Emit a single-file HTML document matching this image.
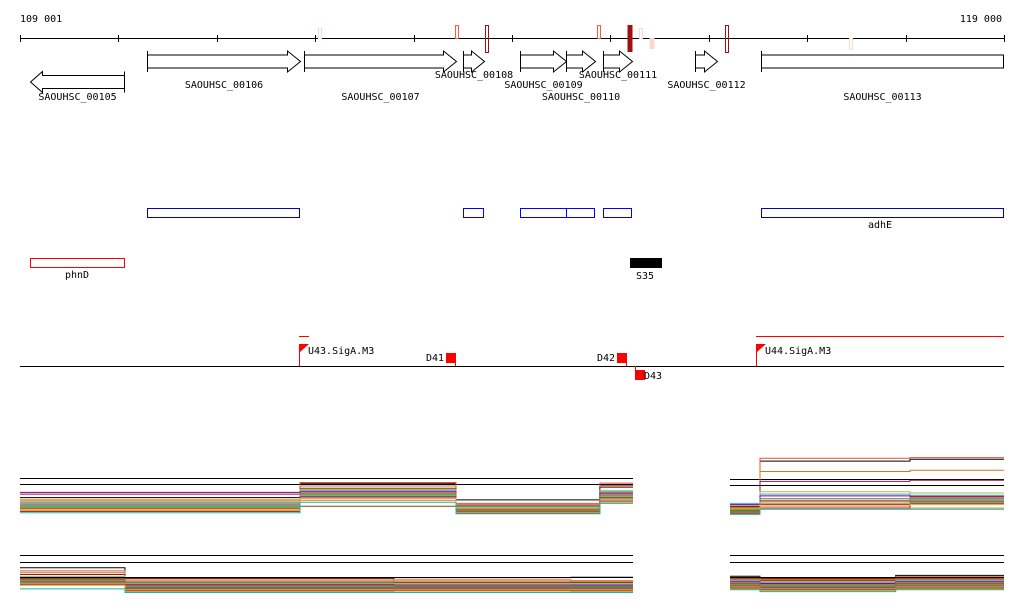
<!DOCTYPE html>
<html><head><meta charset="utf-8">
<style>
html,body{margin:0;padding:0;background:#fff;}
svg{display:block;font-family:"DejaVu Sans Mono","Liberation Mono",monospace;font-size:10px;}
</style></head>
<body>
<svg id="chart" width="1024" height="611" viewBox="0 0 1024 611">
<g id="axis">
 <text x="20" y="22">109 001</text>
 <text x="1002" y="22" text-anchor="end">119 000</text>
 <line x1="20" y1="38.5" x2="1004" y2="38.5" stroke="#000"/>
</g>
<g id="marks"></g>
<g id="genes"></g>
<g id="boxes">
 <rect x="147.5" y="208.5" width="152" height="9" fill="none" stroke="#0000cc"/>
 <rect x="463.5" y="208.5" width="20" height="9" fill="none" stroke="#0000ff"/>
 <rect x="520.5" y="208.5" width="46" height="9" fill="none" stroke="#0000ff"/>
 <rect x="566.5" y="208.5" width="28" height="9" fill="none" stroke="#0000ff"/>
 <rect x="603.5" y="208.5" width="28" height="9" fill="none" stroke="#0000ff"/>
 <rect x="761.5" y="208.5" width="242" height="9" fill="none" stroke="#0000cc"/>
 <text x="880" y="228" text-anchor="middle">adhE</text>
 <rect x="30.5" y="258.5" width="94" height="9" fill="none" stroke="#ff0000"/>
 <text x="77" y="278" text-anchor="middle">phnD</text>
 <rect x="630" y="258" width="32" height="10" fill="#000"/>
 <text x="645" y="279" text-anchor="middle">S35</text>
</g>
<g id="regs">
 <line x1="20" y1="366.5" x2="1004" y2="366.5" stroke="#000"/>
 <line x1="299" y1="336.5" x2="309" y2="336.5" stroke="#f00"/>
 <line x1="756" y1="336.5" x2="1004" y2="336.5" stroke="#f00"/>
 <g><line x1="299.5" y1="344" x2="299.5" y2="366" stroke="#f00"/><polygon points="300,344 309,344 300,352" fill="#f00"/><text x="308" y="354">U43.SigA.M3</text></g>
 <g><line x1="756.5" y1="344" x2="756.5" y2="366" stroke="#f00"/><polygon points="757,344 766,344 757,352" fill="#f00"/><text x="765" y="354">U44.SigA.M3</text></g>
 <g><rect x="446" y="353" width="10" height="10" fill="#f00"/><line x1="455.5" y1="360" x2="455.5" y2="366" stroke="#f00"/><text x="426" y="361">D41</text></g>
 <g><rect x="617" y="353" width="10" height="10" fill="#f00"/><line x1="626.5" y1="360" x2="626.5" y2="366" stroke="#f00"/><text x="597" y="361">D42</text></g>
 <g><line x1="635.5" y1="366" x2="635.5" y2="372" stroke="#f00"/><rect x="635" y="370" width="10" height="10" fill="#f00"/><text x="644" y="379">D43</text></g>
</g>
<g id="expr"></g>
</svg>
<script>
const NS="http://www.w3.org/2000/svg";
function mk(tag,attrs,parent){const e=document.createElementNS(NS,tag);for(const k in attrs)e.setAttribute(k,attrs[k]);parent.appendChild(e);return e;}
const startPos=109001, endPos=119000;
const X=p=>20+(p-startPos)/(endPos-startPos)*984;
const tickPositions=[109001,110001,111001,112001,113001,114001,115001,116001,117001,118001,119000];
const axisG=document.getElementById('axis');
tickPositions.forEach(t=>{const l=mk('line',{x1:Math.round(X(t))+0.5,y1:35,x2:Math.round(X(t))+0.5,y2:42,stroke:'#000'},axisG);

});

// site marks
const markPos=[112049,113441,113746,114884,115199,115311,115423,116185,117445];
const markColor=['#fcd9cf','#f06040','#a01010','#f06040','#a01010','#fcd9cf','#fbd8cc','#a01010','#fcd9cf'];
const markTop=[28,25,25,25,25,28,38,25,38];
const markBot=[38,38,52,38,52,38,49,52,49];
const markFill=[0,0,0,0,1,0,1,0,0];
const mg=document.getElementById('marks');
markPos.forEach((p,i)=>{const x=Math.round(X(p));
const r=mk('rect',{x:x-1.5,y:markTop[i]+0.5,width:3,height:markBot[i]-markTop[i],fill:markFill[i]?markColor[i]:'none',stroke:markColor[i]},mg);
if(markFill[i]){r.setAttribute('x',x-2.5);r.setAttribute('width',5);r.setAttribute('stroke','none');r.setAttribute('y',markTop[i]);}

});

// genes
const geneNames=['SAOUHSC_00105','SAOUHSC_00106','SAOUHSC_00107','SAOUHSC_00108','SAOUHSC_00109','SAOUHSC_00110','SAOUHSC_00111','SAOUHSC_00112','SAOUHSC_00113'];
const geneStart=[109103,110291,111887,113502,114082,114549,114925,115860,116530];
const geneEnd=[110058,111846,113431,113716,114549,114843,115220,116083,118990];
const geneStrand=[-1,1,1,1,1,1,1,1,0];
const geneRow=[1,0,0,0,0,0,0,0,0];
const labelY=[100,88,100,78,88,100,78,88,100];
const gg=document.getElementById('genes');
geneNames.forEach((n,i)=>{
 const g=mk('g',{},gg);
 
 
 let a=Math.round(X(geneStart[i]))+0.5,b=Math.round(X(geneEnd[i]))+0.5;
 const cy=geneRow[i]?82:61.5, h=6.5, H=10.5;
 let pts;
 if(geneStrand[i]===1){const hx=Math.max(a,b-13);pts=[[a,cy-h],[hx,cy-h],[hx,cy-H],[b,cy],[hx,cy+H],[hx,cy+h],[a,cy+h]];
  mk('line',{x1:a,y1:cy-H,x2:a,y2:cy+H,stroke:'#000'},g);}
 else if(geneStrand[i]===-1){const hx=Math.min(b,a+12);pts=[[b,cy-h],[hx,cy-h],[hx,cy-H],[a,cy],[hx,cy+H],[hx,cy+h],[b,cy+h]];
  mk('line',{x1:b,y1:cy-H,x2:b,y2:cy+H,stroke:'#000'},g);}
 else {pts=[[a,cy-h],[b,cy-h],[b,cy+h],[a,cy+h]];mk('line',{x1:a,y1:cy-H,x2:a,y2:cy+H,stroke:'#000'},g);}
 mk('polygon',{points:pts.map(p=>p.join(',')).join(' '),fill:'#fff',stroke:'#000'},g);
 const t=mk('text',{x:(a+b)/2,y:labelY[i],'text-anchor':'middle'},g);t.textContent=n;
});

// expression tracks
const leftSegs=[109001,111846,113431,114894,115230];
const rightSegs=[116216,116521,118045,119000];
const lowLeftSegs=[109001,110068,112800,114600,115230];
const lowRightSegs=[116216,116521,117900,119000];
const seriesColors=['#000','#e8503a','#cc7a1a','#8b1a4a','#9acd32','#4aa3df','#800080','#d2691e','#666','#32cd32','#b22222','#708090','#ff7f50','#8b4513','#daa520','#20b2aa'];
const upLeft=[
[3.0,5.4,2.6,5.2],[2.6,5.6,2.0,5.5],[2.2,5.0,1.8,5.0],[3.6,4.6,1.6,4.8],[2.4,4.4,1.4,4.2],[2.0,4.2,1.2,4.0],
[3.9,4.0,1.0,3.8],[1.8,3.8,0.9,3.6],[1.5,3.6,0.8,3.4],[1.3,3.4,0.7,3.2],[1.1,3.2,0.6,3.0],[1.7,3.0,1.5,2.8],
[0.8,2.8,0.5,2.6],[0.6,1.5,0.3,2.4],[1.0,2.5,1.1,2.2],[0.4,2.2,0.2,2.0]];
const upRight=[
[1.5,9.3,9.6],[1.3,9.8,9.9],[1.2,7.5,7.7],[1.0,5.8,6.0],[0.9,4.0,3.8],[2.0,3.6,3.4],
[1.8,3.3,3.2],[0.7,2.5,3.0],[0.8,2.8,2.8],[0.6,2.0,2.6],[0.5,1.8,2.4],[0.4,2.3,2.2],
[0.3,1.5,1.2],[0.2,1.2,2.0],[1.1,2.0,1.8],[0.1,1.0,1.0]];
const lowLeft=[
[4.5,2.2,2.3,2.4],[3.8,2.0,1.8,1.6],[3.4,1.6,1.5,1.4],[3.0,1.3,1.2,1.2],[2.6,1.1,1.0,1.0],[2.4,0.9,0.8,0.8],
[2.2,0.7,0.6,0.6],[2.0,0.5,0.5,0.4],[1.8,0.3,0.3,0.3],[1.6,0.2,0.1,0.2],[1.4,0.0,0.0,0.0],[1.2,-0.2,-0.2,-0.2],
[1.0,-0.4,-0.3,-0.4],[0.8,-0.6,-0.5,-0.6],[0.6,-0.8,-0.7,-0.8],[-0.2,-1.0,-1.0,-1.0]];
const lowRight=[
[2.6,2.2,2.8],[2.4,2.0,2.5],[2.2,1.8,2.2],[2.0,1.6,2.0],[1.8,1.4,1.8],[1.6,1.2,1.6],
[1.4,1.0,1.4],[1.2,0.8,1.2],[1.0,0.6,1.0],[0.8,0.4,0.8],[0.6,0.2,0.6],[0.4,0.0,0.4],
[0.2,-0.2,0.2],[0.0,-0.4,0.0],[-0.2,-0.6,-0.2],[-0.4,-0.8,-0.4]];
const eg=document.getElementById('expr');
const yUp=v=>515-v*5.8, yLow=v=>588-v*4.5;
function refLines(x1,x2,ys,name){ys.forEach(y=>{const l=mk('line',{x1:x1,y1:y,x2:x2,y2:y,stroke:'#000'},eg);

});}
function drawPanel(segs,data,ys,name){
 data.forEach((lv,i)=>{let d='';
  lv.forEach((v,j)=>{const x1=X(segs[j]),x2=X(segs[j+1]),y=ys(v);d+=(j?'L':'M')+x1.toFixed(1)+','+y.toFixed(1)+'L'+x2.toFixed(1)+','+y.toFixed(1);});
  const p=mk('path',{d:d,fill:'none',stroke:seriesColors[i%seriesColors.length],'stroke-width':1},eg);
  
  });
}
refLines(20,633,[478.5,484.5],'upper-left-reference-line');
refLines(730,1004,[479.5,485.5],'upper-right-reference-line');
refLines(20,633,[555.5,562.5],'lower-left-reference-line');
refLines(730,1004,[555.5,562.5],'lower-right-reference-line');
drawPanel(leftSegs,upLeft,yUp,'upper-left');
drawPanel(rightSegs,upRight,yUp,'upper-right');
drawPanel(lowLeftSegs,lowLeft,yLow,'lower-left');
drawPanel(lowRightSegs,lowRight,yLow,'lower-right');
refLines(20,633,[577.5],'lower-left-baseline');
refLines(730,1004,[577.5],'lower-right-baseline');
</script>
</body></html>
